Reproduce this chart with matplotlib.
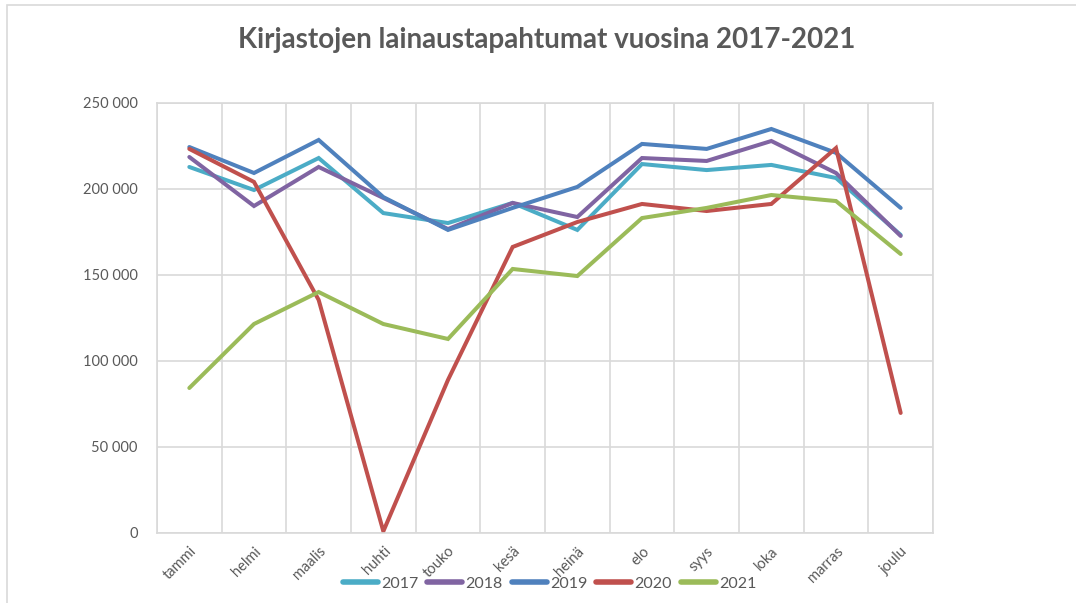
import matplotlib
matplotlib.use("Agg")
import matplotlib.pyplot as plt
from matplotlib.ticker import FuncFormatter, FixedLocator
from matplotlib.patches import Rectangle

# kuukaudet
months = ["tammi", "helmi", "maalis", "huhti", "touko", "kesä",
          "heinä", "elo", "syys", "loka", "marras", "joulu"]

# lainaustapahtumat vuosittain (luettu kuvasta)
y2017 = [212800, 199400, 218000, 186000, 180200, 191900,
         176200, 214500, 211000, 214000, 206400, 173300]
y2018 = [218600, 190100, 212800, 194800, 176700, 191900,
         183700, 218000, 216300, 227900, 209300, 172700]
y2019 = [224400, 209300, 228500, 195300, 176200, 189000,
         201200, 226200, 223300, 234900, 221000, 189000]
y2020 = [223300, 204100, 135500, 1000, 89000, 166300,
         180800, 191300, 187200, 191300, 223800, 69800]
y2021 = [84300, 121500, 140100, 121500, 112800, 153500,
         149400, 183100, 189000, 196500, 193000, 162200]

series = [("2017", y2017, "#4BACC6"),
          ("2018", y2018, "#8064A2"),
          ("2019", y2019, "#4F81BD"),
          ("2020", y2020, "#C0504D"),
          ("2021", y2021, "#9BBB59")]

plt.rcParams["font.family"] = ["Lato", "DejaVu Sans"]
text_col = "#595959"
grid_col = "#D9D9D9"

fig = plt.figure(figsize=(10.76, 6.03), dpi=100)
ax = fig.add_axes([0.1459, 0.1161, 0.7212, 0.7131])

# chart area border
fig.patches.append(Rectangle((7 / 1076, -0.1), 1.2, 1 - 5 / 603 + 0.1,
                             transform=fig.transFigure, fill=False,
                             edgecolor=grid_col, linewidth=1.2))

x = range(len(months))
for name, vals, col in series:
    ax.plot(x, vals, color=col, linewidth=2.9, label=name,
            solid_capstyle="round", solid_joinstyle="miter")

ax.set_xlim(-0.5, len(months) - 0.5)
ax.set_ylim(0, 250000)
ax.set_yticks(range(0, 250001, 50000))
ax.yaxis.set_major_formatter(FuncFormatter(lambda v, p: f"{v:,.0f}".replace(",", " ")))

ax.set_xticks(list(x))
ax.set_xticklabels(months, rotation=45, ha="right", va="top",
                   rotation_mode="anchor")
ax.xaxis.set_minor_locator(FixedLocator([i - 0.5 for i in range(len(months) + 1)]))

ax.grid(axis="y", which="major", color=grid_col, linewidth=1.2)
ax.grid(axis="x", which="minor", color=grid_col, linewidth=1.2)
ax.set_axisbelow(True)

for s in ax.spines.values():
    s.set_color(grid_col)
    s.set_linewidth(1.2)

ax.tick_params(axis="both", which="both", length=0, colors=text_col,
               labelsize=10.5)
ax.tick_params(axis="y", pad=14)
ax.tick_params(axis="x", pad=8)

fig.text(547 / 1076, 1 - 40 / 603, "Kirjastojen lainaustapahtumat vuosina 2017-2021",
         ha="center", va="center", fontsize=20, fontweight="bold", color=text_col)

leg = ax.legend(loc="center", bbox_to_anchor=(0.506, -0.118), ncol=5,
                frameon=False, fontsize=11.5, handlelength=2.2,
                handletextpad=0.2, columnspacing=0.55, labelcolor=text_col)
for line in leg.get_lines():
    line.set_linewidth(4)

fig.savefig("out.png", dpi=100)
